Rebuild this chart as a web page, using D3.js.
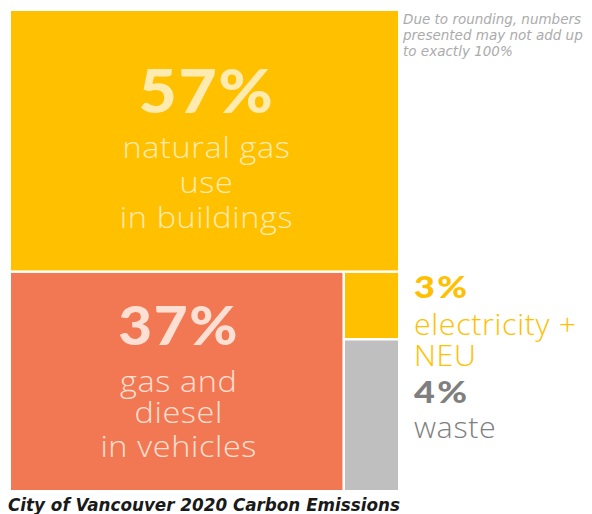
<!DOCTYPE html>
<html>
<head>
<meta charset="utf-8">
<script src="https://cdn.jsdelivr.net/npm/d3@7"></script>
<style>
  html, body { margin: 0; padding: 0; background: #fff; }
  svg { display: block; }
</style>
</head>
<body>
<script>
// Chart data
var categories = ["buildings", "vehicles", "electricity", "waste"];
var shareLabels = ["57%", "37%", "3%", "4%"];
// tile sizes as drawn in the picture (they do not match the rounded labels exactly)
var tileValues = [54.4, 39.1, 2.0, 4.5];
var descriptions = [
    ["natural gas", "use", "in buildings"],
    ["gas and", "diesel", "in vehicles"],
    ["electricity +", "NEU"],
    ["waste"]
];
var noteLines = ["Due to rounding, numbers", "presented may not add up", "to exactly 100%"];
var title = "City of Vancouver 2020 Carbon Emissions";

var tileColor = ["#ffc000", "#f27853", "#ffc000", "#bfbfbf"];
var inTextColor = ["#ffebb0", "#fde0d3", null, null];
var sideColor = [null, null, "#ffc000", "#7f7f7f"];

var WIDTH = 592, HEIGHT = 514;
var MARGINS = { top: 11, left: 11 };

var svg = d3.select("body").append("svg")
    .attr("width", WIDTH)
    .attr("height", HEIGHT);

// buildings on top, then vehicles beside a small column of electricity / waste
var tree = {
    children: [
        { id: 0 },
        { children: [
            { id: 1 },
            { children: [{ id: 2 }, { id: 3 }] }
        ] }
    ]
};

var root = d3.hierarchy(tree)
    .sum(function(d) { return d.id === undefined ? 0 : tileValues[d.id]; });

d3.treemap()
    .size([387, 479])
    .paddingInner(2.5)
    .tile(function(node, x0, y0, x1, y1) {
        (node.depth % 2 === 0 ? d3.treemapSlice : d3.treemapDice)(node, x0, y0, x1, y1);
    })(root);

var g = svg.append("g")
    .attr("transform", "translate(" + MARGINS.left + "," + MARGINS.top + ")");

var leaves = root.leaves();

g.selectAll("rect")
    .data(leaves)
    .enter().append("rect")
    .attr("x", function(d) { return d.x0; })
    .attr("y", function(d) { return d.y0; })
    .attr("width", function(d) { return d.x1 - d.x0; })
    .attr("height", function(d) { return d.y1 - d.y0; })
    .attr("fill", function(d) { return tileColor[d.data.id]; });

var BIG_FONT = "Lato, sans-serif";
var LIGHT_FONT = "'Open Sans', sans-serif";

// the original uses a wide geometric face, so stretch the local fonts a bit
function label(x, y, str, o) {
    return g.append("text")
        .attr("transform", "translate(" + x + "," + y + ") scale(" + o.sx + ",1)")
        .attr("text-anchor", o.anchor || "start")
        .attr("font-family", o.family)
        .attr("font-weight", o.weight)
        .attr("font-size", o.size)
        .attr("letter-spacing", o.space || 0)
        .attr("fill", o.fill)
        .text(str);
}

// labels inside the two big tiles
var inside = [
    { id: 0, pctSize: 60, pctDy: -28, lineDy: [17, 52, 87] },
    { id: 1, pctSize: 53, pctDy: -36, lineDy: [11, 42, 76] }
];

inside.forEach(function(lab) {
    var leaf = leaves.filter(function(d) { return d.data.id === lab.id; })[0];
    var cx = (leaf.x0 + leaf.x1) / 2 + 1;
    var cy = (leaf.y0 + leaf.y1) / 2;

    label(cx + 1, cy + lab.pctDy, shareLabels[lab.id], {
        anchor: "middle", family: BIG_FONT, weight: 900,
        size: lab.pctSize, sx: 1.1, space: 1.5, fill: inTextColor[lab.id]
    });

    descriptions[lab.id].forEach(function(line, i) {
        label(cx + 1, cy + lab.lineDy[i], line, {
            anchor: "middle", family: LIGHT_FONT, weight: 300,
            size: 30, sx: 1.08, space: 0.6, fill: inTextColor[lab.id]
        });
    });
});

// labels to the right of the small tiles
var side = [
    { id: 2, pctDy: 25, lineDy: [62, 93] },
    { id: 3, pctDy: 63, lineDy: [98] }
];

side.forEach(function(lab) {
    var leaf = leaves.filter(function(d) { return d.data.id === lab.id; })[0];
    var x = leaf.x1 + 16;

    label(x, leaf.y0 + lab.pctDy, shareLabels[lab.id], {
        family: BIG_FONT, weight: 900, size: 30, sx: 1.2, space: 2,
        fill: sideColor[lab.id]
    });

    descriptions[lab.id].forEach(function(line, i) {
        label(x, leaf.y0 + lab.lineDy[i], line, {
            family: LIGHT_FONT, weight: 300, size: 29, sx: 1.05, space: 0.6,
            fill: sideColor[lab.id]
        });
    });
});

// rounding note, top right
svg.append("g").selectAll("text")
    .data(noteLines)
    .enter().append("text")
    .attr("x", 403)
    .attr("y", function(d, i) { return 24 + i * 16; })
    .attr("font-family", "'DejaVu Sans', sans-serif")
    .attr("font-style", "italic")
    .attr("font-size", 13.5)
    .attr("fill", "#ababab")
    .text(function(d) { return d; });

// caption
svg.append("text")
    .attr("x", 8)
    .attr("y", 511)
    .attr("font-family", "'DejaVu Sans', sans-serif")
    .attr("font-style", "italic")
    .attr("font-weight", "bold")
    .attr("font-size", 16.8)
    .attr("fill", "#1a1a1a")
    .text(title);
</script>
</body>
</html>
